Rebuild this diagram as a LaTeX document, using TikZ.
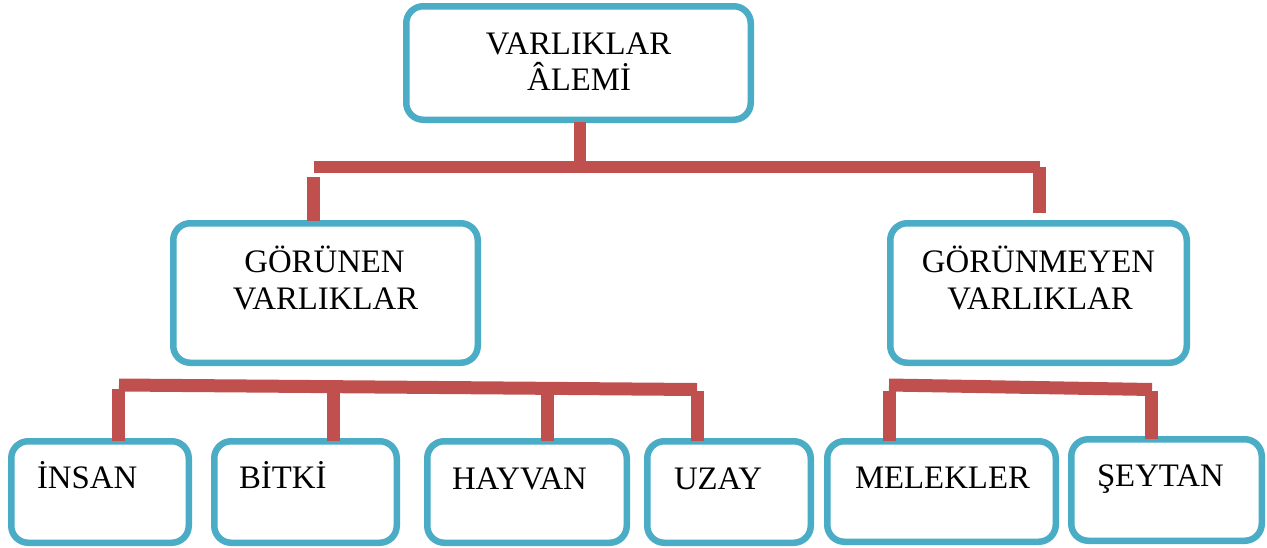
\documentclass[tikz,border=0pt]{standalone}
\usepackage{fontspec}
\setmainfont{Liberation Serif}
\definecolor{boxblue}{HTML}{4BACC6}
\definecolor{barred}{HTML}{C0504D}
\tikzset{
  box/.style={draw=boxblue, line width=6.5pt, rounded corners=17pt, fill=white,
    inner sep=0pt, outer sep=0pt},
  bar/.style={draw=barred, line width=13pt, line cap=butt},
  lbl/.style={inner sep=0pt, outer sep=0pt, font=\fontsize{32.8}{36}\selectfont, text=black}
}
\begin{document}
\begin{tikzpicture}[x=1pt,y=-1pt]
\useasboundingbox (0,0) rectangle (1267,547);
% joints of the connectors
\coordinate (t0) at (579.5,122);
\coordinate (t1) at (579.5,161);
\coordinate (hL) at (313.5,167);
\coordinate (hR) at (1040,167);
\coordinate (rv0) at (1039.5,167);
\coordinate (rv1) at (1039.5,213);
\coordinate (lv0) at (313.5,177);
\coordinate (lv1) at (313.5,221);
\coordinate (gL) at (119,385);
\coordinate (gR) at (697,389.5);
\coordinate (g1) at (118.5,389);
\coordinate (g2) at (333,387);
\coordinate (g3) at (547,388);
\coordinate (g4) at (697,391);
\coordinate (mL) at (889,385);
\coordinate (mR) at (1152,389.5);
\coordinate (m1) at (889.5,391);
\coordinate (m2) at (1151.5,391);
% boxes
\node[box, minimum width=344.5pt, minimum height=113.5pt] (top) at (578.5,63) {};
\node[box, minimum width=304.5pt, minimum height=139.5pt] (gor) at (325.5,293) {};
\node[box, minimum width=296.5pt, minimum height=139.5pt] (gorm) at (1038.5,293) {};
\node[box, minimum width=177.5pt, minimum height=101.5pt] (ins) at (100,492) {};
\node[box, minimum width=182.5pt, minimum height=101.5pt] (bit) at (305.5,492) {};
\node[box, minimum width=199.5pt, minimum height=101.5pt] (hay) at (527,492) {};
\node[box, minimum width=163.5pt, minimum height=101.5pt] (uza) at (729,492) {};
\node[box, minimum width=228.5pt, minimum height=100.5pt] (mel) at (941.5,491.5) {};
\node[box, minimum width=190.5pt, minimum height=101.5pt] (sey) at (1166.5,490) {};
% connectors
\draw[bar, line width=12pt] (t0) -- (t1);
\draw[bar, line width=12.5pt] (hL) -- (hR);
\draw[bar] (rv0) -- (rv1);
\draw[bar] (lv0) -- (lv1);
\draw[bar] (gL) -- (gR);
\draw[bar] (g1) -- (g1 |- ins.north);
\draw[bar] (g2) -- (g2 |- bit.north);
\draw[bar] (g3) -- (g3 |- hay.north);
\draw[bar] (g4) -- (g4 |- uza.north);
\draw[bar] (mL) -- (mR);
\draw[bar] (m1) -- (m1 |- mel.north);
\draw[bar] (m2) -- (m2 |- sey.north);
% texts
\node[lbl, anchor=base] (t-a) at (578.5,54) {VARLIKLAR};
\node[lbl, anchor=base] (t-b) at (579,90) {ÂLEMİ};
\node[lbl, anchor=base] (g-a) at (324.5,272) {GÖRÜNEN};
\node[lbl, anchor=base] (g-b) at (325.5,309) {VARLIKLAR};
\node[lbl, anchor=base] (gm-a) at (1038.5,272) {GÖRÜNMEYEN};
\node[lbl, anchor=base] (gm-b) at (1040,309) {VARLIKLAR};
\node[lbl, anchor=base west] (ins-t) at (37,488) {İNSAN};
\node[lbl, anchor=base west] (bit-t) at (239,488) {BİTKİ};
\node[lbl, anchor=base west] (hay-t) at (452,489) {HAYVAN};
\node[lbl, anchor=base west] (uza-t) at (674,489) {UZAY};
\node[lbl, anchor=base west] (mel-t) at (855,488) {MELEKLER};
\node[lbl, anchor=base west] (sey-t) at (1097,486) {ŞEYTAN};
\end{tikzpicture}
\end{document}
